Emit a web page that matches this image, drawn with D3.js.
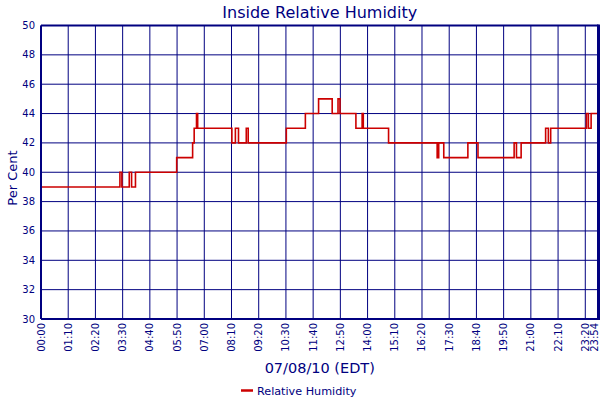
<!DOCTYPE html>
<html>
<head>
<meta charset="utf-8">
<script src="https://cdn.jsdelivr.net/npm/d3@7"></script>
<style>
  body { margin: 0; background: #fff; }
  text { font-family: "DejaVu Sans", sans-serif; fill: #000080; }
</style>
</head>
<body>
<svg width="600" height="400"></svg>
<script>
var margin = {top: 25.5, right: 1.5, bottom: 81, left: 41};
var width = 600 - margin.left - margin.right;
var height = 400 - margin.top - margin.bottom;

// minutes after midnight where the reading changes, and the new reading
var times  = [0, 203, 208, 227, 233, 243, 349, 390, 394, 400, 403, 491, 500, 508, 528, 533,
              631, 680, 714, 749, 764, 769, 810, 826, 829, 894, 1019, 1023, 1036, 1098, 1124,
              1217, 1223, 1235, 1298, 1305, 1311, 1403, 1408, 1415, 1434];
var values = [39, 40, 39, 40, 39, 40, 41, 42, 43, 44, 43, 42, 43, 42, 43, 42,
              43, 44, 45, 44, 45, 44, 43, 44, 43, 42, 41, 42, 41, 42, 41,
              42, 41, 42, 43, 42, 43, 44, 43, 44, 44];

// tick positions (minutes) and their labels
var tickMinutes = [0, 70, 140, 210, 280, 350, 420, 490, 560, 630, 700, 770, 840, 910,
                   980, 1050, 1120, 1190, 1260, 1330, 1400, 1434];
var tickLabels = ["00:00", "01:10", "02:20", "03:30", "04:40", "05:50", "07:00", "08:10",
                  "09:20", "10:30", "11:40", "12:50", "14:00", "15:10", "16:20", "17:30",
                  "18:40", "19:50", "21:00", "22:10", "23:20", "23:54"];
var yTicks = [30, 32, 34, 36, 38, 40, 42, 44, 46, 48, 50];

var navy = "#000080";
var red = "#cc0000";

var svg = d3.select("svg");
var g = svg.append("g")
    .attr("transform", "translate(" + margin.left + "," + margin.top + ")");

var x = d3.scaleLinear().domain([0, 1434]).range([0, width]);
var y = d3.scaleLinear().domain([30, 50]).range([height, 0]);

// grid
g.selectAll(".hgrid").data(yTicks).enter().append("line")
    .attr("x1", 0).attr("x2", width)
    .attr("y1", function(d) { return y(d); })
    .attr("y2", function(d) { return y(d); })
    .attr("stroke", navy).attr("stroke-width", 1);

g.selectAll(".vgrid").data(tickMinutes).enter().append("line")
    .attr("y1", 0).attr("y2", height)
    .attr("x1", function(d) { return x(d); })
    .attr("x2", function(d) { return x(d); })
    .attr("stroke", navy).attr("stroke-width", 1);

// y tick labels
g.selectAll(".ylab").data(yTicks).enter().append("text")
    .attr("x", -6)
    .attr("y", function(d) { return y(d); })
    .attr("dy", "0.35em")
    .attr("text-anchor", "end")
    .attr("font-size", 10)
    .text(function(d) { return d; });

// x tick labels, rotated (last one nudged in so it stays on the page)
g.selectAll(".xlab").data(tickMinutes).enter().append("text")
    .attr("transform", function(d, i) {
      var px = x(d) - (i === tickMinutes.length - 1 ? 4 : 0);
      return "translate(" + px + "," + (height + 4) + ") rotate(-90)";
    })
    .attr("dy", "0.35em")
    .attr("text-anchor", "end")
    .attr("font-size", 10)
    .text(function(d, i) { return tickLabels[i]; });

// data line
var pts = times.map(function(t, i) { return [t, values[i]]; });
var line = d3.line()
    .x(function(d) { return x(d[0]); })
    .y(function(d) { return y(d[1]); })
    .curve(d3.curveStepAfter);

g.append("path")
    .datum(pts)
    .attr("fill", "none")
    .attr("stroke", red)
    .attr("stroke-width", 1.6)
    .attr("d", line);

// frame
g.append("line").attr("x1", 0).attr("x2", width).attr("y1", 0).attr("y2", 0)
    .attr("stroke", navy).attr("stroke-width", 2);
g.append("line").attr("x1", 0).attr("x2", width).attr("y1", height).attr("y2", height)
    .attr("stroke", navy).attr("stroke-width", 2);
g.append("line").attr("x1", 0).attr("x2", 0).attr("y1", 0).attr("y2", height)
    .attr("stroke", navy).attr("stroke-width", 2);
g.append("line").attr("x1", width).attr("x2", width).attr("y1", -1).attr("y2", height + 1)
    .attr("stroke", navy).attr("stroke-width", 3);

// titles
svg.append("text")
    .attr("x", margin.left + width / 2).attr("y", 18)
    .attr("text-anchor", "middle")
    .attr("font-size", 16)
    .text("Inside Relative Humidity");

svg.append("text")
    .attr("x", margin.left + width / 2).attr("y", 373)
    .attr("text-anchor", "middle")
    .attr("font-size", 14.5)
    .text("07/08/10 (EDT)");

svg.append("text")
    .attr("transform", "translate(17,178) rotate(-90)")
    .attr("text-anchor", "middle")
    .attr("font-size", 13)
    .text("Per Cent");

// legend
svg.append("line")
    .attr("x1", 241).attr("x2", 253).attr("y1", 390.5).attr("y2", 390.5)
    .attr("stroke", red).attr("stroke-width", 2.5);
svg.append("text")
    .attr("x", 257).attr("y", 394.5)
    .attr("font-size", 11.2)
    .text("Relative Humidity");
</script>
</body>
</html>
